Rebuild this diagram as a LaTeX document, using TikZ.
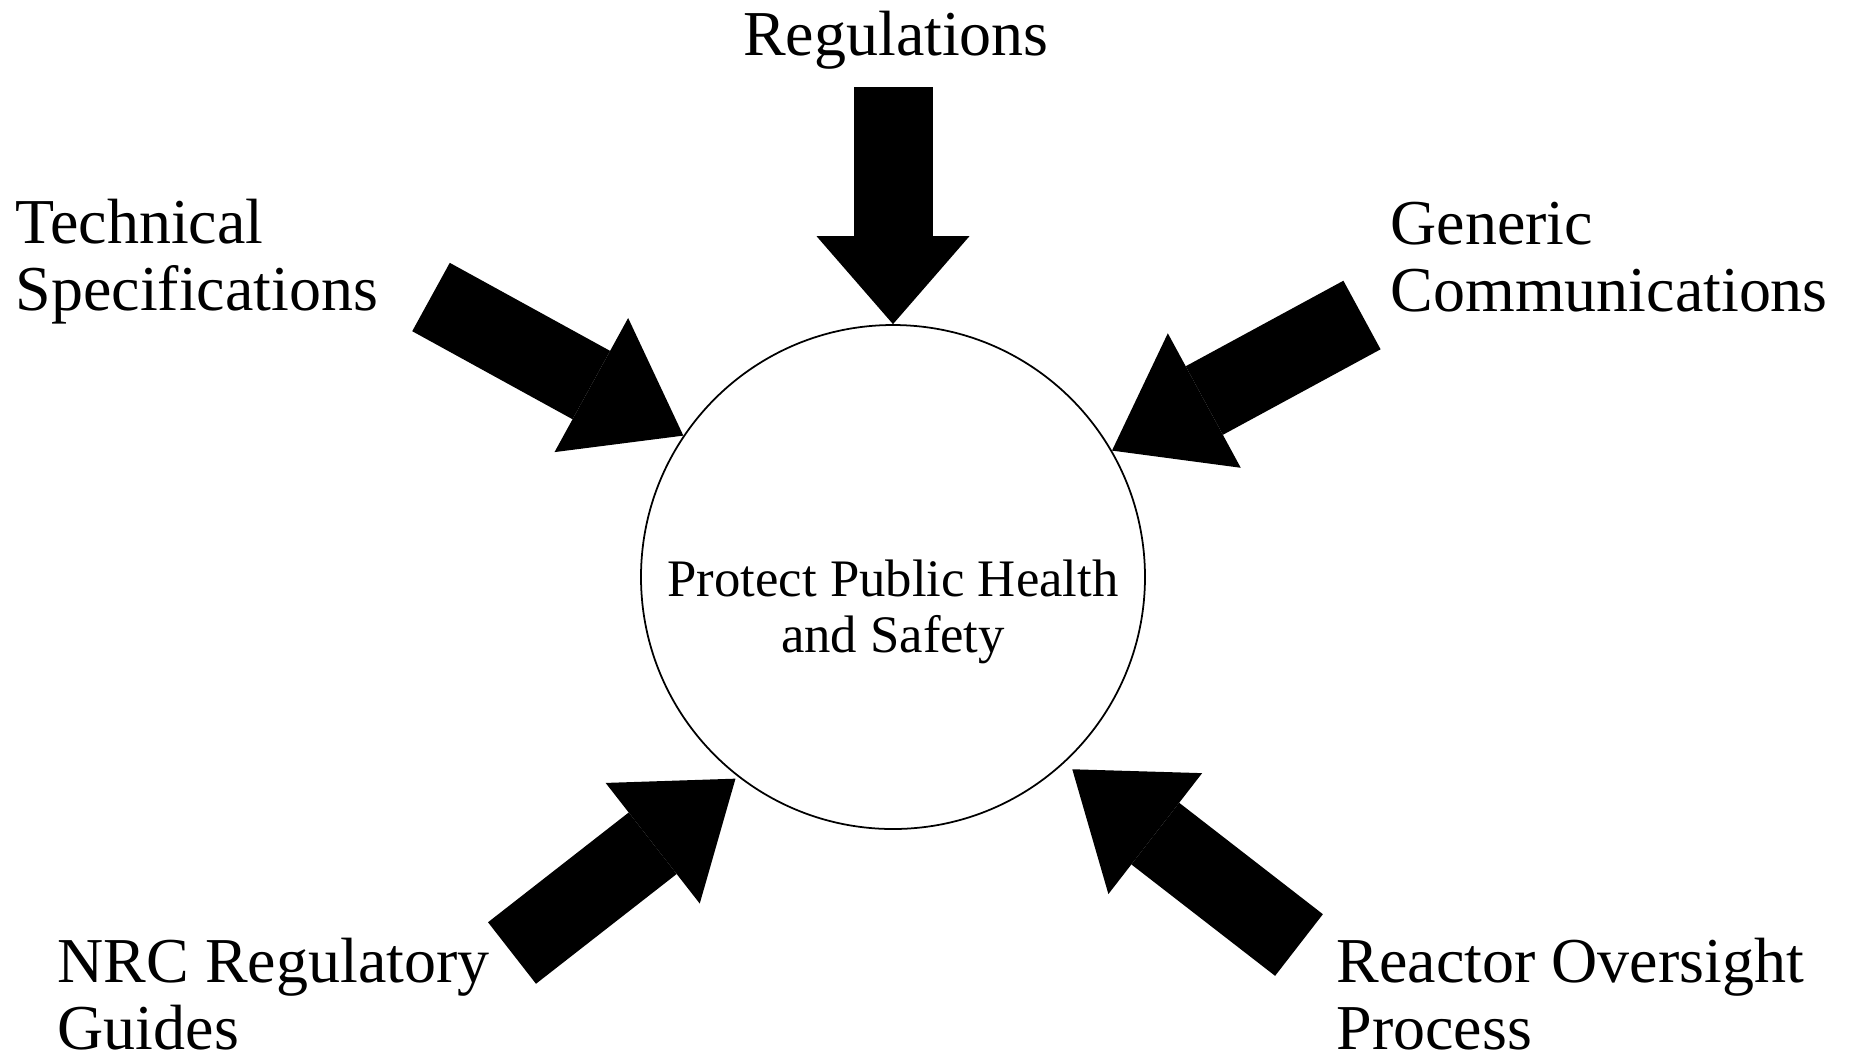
\documentclass[tikz,border=0pt]{standalone}
\usepackage{fontspec}
\setmainfont{Liberation Serif}
\usetikzlibrary{arrows.meta}

\begin{document}
\begin{tikzpicture}[
  hub/.style={draw, circle, line width=0.5pt, minimum size=5.04cm, inner sep=0pt},
  goaltext/.style={align=center, inner sep=0pt, font=\fontsize{15}{16}\selectfont},
  source/.style={align=left, inner sep=0pt, font=\fontsize{18.2}{19}\selectfont},
  blockarrow/.style={line width=0.78cm, -{Triangle[length=1.05cm, width=1.53cm, line width=0pt]}}
]
\useasboundingbox (0,0) rectangle (18.49,-10.58);
\node[hub] (core) at (8.93,-5.77) {};
\node[goaltext] (goal) at (8.93,-6.12) {Protect Public Health\\and Safety};

\node[source, anchor=base] (regs) at (8.96,-0.55) {Regulations};
\node[source, anchor=base west] (techspec) at (0.15,-3.10) {Technical\\Specifications};
\node[source, anchor=base west] (gencomm) at (13.90,-3.11) {Generic\\Communications};
\node[source, anchor=base west] (regguide) at (0.57,-10.49) {NRC Regulatory\\Guides};
\node[source, anchor=base west] (rop) at (13.36,-10.49) {Reactor Oversight\\Process};

\coordinate (regtail) at (8.93,-0.87);
\coordinate (techtail) at (4.31,-2.97);
\coordinate (gentail) at (13.62,-3.15);
\coordinate (guidetail) at (5.12,-9.53);
\coordinate (roptail) at (12.99,-9.45);

\draw[blockarrow, line width=0.79cm, -{Triangle[length=0.88cm, width=1.53cm, line width=0pt]}] (regtail) -- (core.north);
\draw[blockarrow] (techtail) -- (core.146.6);
\draw[blockarrow] (gentail) -- (core.30);
\draw[blockarrow] (guidetail) -- ([shift={(232.6:0.03)}]core.232.6);
\draw[blockarrow] (roptail) -- ([shift={(313:0.1)}]core.313);
\end{tikzpicture}
\end{document}
